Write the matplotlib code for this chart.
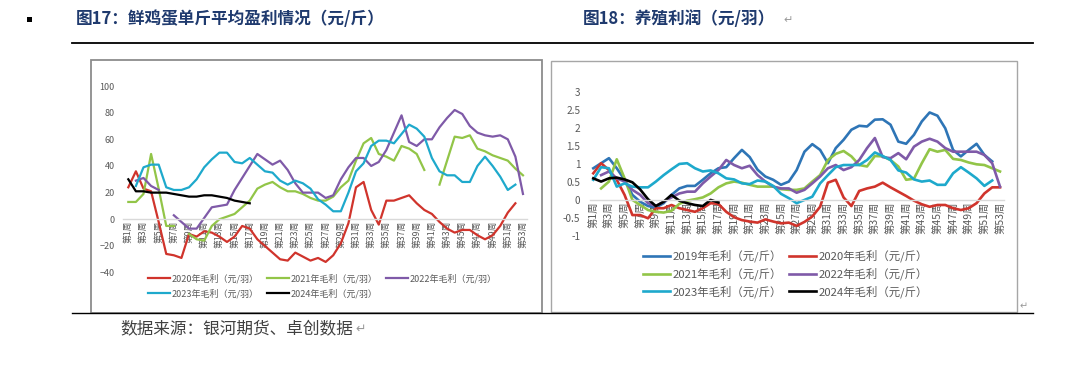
import matplotlib
matplotlib.use("Agg")
import matplotlib.pyplot as plt
import numpy as np
from matplotlib.patches import Rectangle
from matplotlib.lines import Line2D

plt.rcParams['font.family'] = ['Noto Sans CJK SC', 'DejaVu Sans']

nan = np.nan
weeks = np.arange(1, 54)
week_labels = ["第%d周" % w for w in weeks]

# 图17 data (元/羽)
egg_2020 = [24, 36, 23, 21, -2, -26, -27, -29, -11, -13, -9, -10, -13, -17, -13, -5, -7, -15, -20, -25,
            -30, -31, -25, -28, -31, -29, -32, -27, -18, -3, 24, 28, 7, -4, 14, 14, 16, 18, 12, 7,
            4, -2, -7, -10, -8, -8, -12, -15, -12, -5, 5, 12, nan]
egg_2021 = [13, 13, 19, 49, 23, -5, -5, nan, -11, -15, -16, -5, 0, 2, 4, 9, 14, 23, 26, 28,
            24, 21, 21, 19, 16, 14, 14, 17, 24, 29, 44, 57, 61, 49, 47, 44, 55, 53, 49, 37,
            nan, 26, 44, 62, 61, 63, 53, 51, 48, 46, 44, 38, 33]
egg_2022 = [nan, 29, 31, 25, 22, nan, 3, -2, -7, -7, 1, 9, 10, 11, 22, 31, 40, 49, 45, 41,
            44, 37, 27, 20, 20, 20, 16, 18, 30, 39, 46, 46, 40, 43, 52, 65, 78, 58, 55, 60,
            60, 69, 76, 82, 79, 70, 65, 63, 62, 63, 60, 47, 19]
egg_2023 = [nan, 25, 39, 41, 41, 24, 22, 22, 24, 30, 39, 45, 50, 50, 43, 42, 46, 41, 36, 35,
            29, 26, 29, 27, 23, 15, 11, 6, 6, 20, 36, 42, 55, 59, 59, 57, 64, 71, 68, 62,
            46, 36, 33, 33, 28, 28, 40, 47, 40, 32, 22, 26, nan]
egg_2024 = [30, 21, 21, 20, 20, 20, 19, 18, 17, 17, 18, 18, 17, 16, 14, 13, 12]

# 图18 data (元/斤)
farm_2019 = [0.89, 1.03, 1.17, 0.89, 0.57, 0.15, -0.04, -0.16, -0.2, -0.08, 0.15, 0.33, 0.4, 0.4, 0.57,
             0.75, 0.89, 0.92, 1.17, 1.4, 1.2, 0.85, 0.66, 0.57, 0.43, 0.52, 0.84, 1.35, 1.56, 1.4,
             1.03, 1.45, 1.68, 1.96, 2.07, 2.05, 2.24, 2.25, 2.1, 1.63, 1.57, 1.82, 2.19, 2.44, 2.35,
             2.0, 1.4, 1.22, 1.4, 1.57, 1.26, 1.08, nan]
farm_2020 = [0.75, 1.03, 0.84, 0.57, 0.15, -0.41, -0.41, -0.5, -0.22, -0.22, -0.13, -0.22, -0.27, -0.32, -0.22,
             -0.08, -0.1, -0.32, -0.47, -0.55, -0.59, -0.62, -0.53, -0.59, -0.64, -0.62, -0.71, -0.6, -0.45, -0.18,
             0.49, 0.57, 0.08, -0.16, 0.26, 0.33, 0.38, 0.49, 0.36, 0.24, 0.12, -0.01, -0.11, -0.18, -0.13,
             -0.13, -0.22, -0.27, -0.22, -0.08, 0.19, 0.36, 0.36]
farm_2021 = [nan, 0.33, 0.52, 1.14, 0.61, 0.01, -0.13, -0.27, -0.32, -0.34, -0.29, -0.1, -0.01, 0.03, 0.08,
             0.19, 0.36, 0.47, 0.52, 0.49, 0.43, 0.38, 0.38, 0.38, 0.31, 0.29, 0.29, 0.33, 0.52, 0.7,
             1.12, 1.29, 1.37, 1.22, 0.98, 0.94, 1.23, 1.22, 1.12, 0.94, 0.57, 0.6, 1.03, 1.42, 1.35,
             1.4, 1.15, 1.12, 1.05, 1.0, 0.98, 0.89, 0.8]
farm_2022 = [nan, 0.7, 0.8, 0.61, 0.52, 0.29, 0.15, -0.08, -0.16, -0.04, 0.08, 0.19, 0.24, 0.24, 0.47,
             0.66, 0.84, 1.12, 0.98, 0.89, 0.96, 0.7, 0.52, 0.38, 0.33, 0.33, 0.21, 0.29, 0.47, 0.66,
             0.89, 0.98, 0.84, 0.92, 1.12, 1.45, 1.73, 1.2, 1.17, 1.31, 1.14, 1.49, 1.63, 1.71, 1.63,
             1.45, 1.35, 1.35, 1.35, 1.35, 1.26, 1.03, 0.38]
farm_2023 = [0.57, 0.92, 0.89, 0.38, 0.47, 0.38, 0.36, 0.36, 0.52, 0.7, 0.86, 1.01, 1.03, 0.89, 0.8,
             0.83, 0.75, 0.61, 0.58, 0.47, 0.45, 0.55, 0.52, 0.4, 0.18, 0.06, -0.08, 0.01, 0.1, 0.47,
             0.7, 0.92, 0.98, 0.98, 0.98, 1.12, 1.33, 1.23, 1.12, 0.83, 0.77, 0.58, 0.52, 0.55, 0.43,
             0.43, 0.75, 0.92, 0.77, 0.61, 0.4, 0.55, nan]
farm_2024 = [0.61, 0.52, 0.61, 0.63, 0.58, 0.5, 0.3, 0.03, -0.16, -0.04, 0.15, -0.01, -0.08, -0.13, -0.16,
             0.01, -0.06]

c_blue = '#2E75B6'
c_red = '#D0342C'
c_green = '#92C548'
c_purple = '#7F5AA8'
c_cyan = '#1EA9CC'
c_black = '#000000'
c_tick = '#595959'

W, H = 1080, 367
fig = plt.figure(figsize=(W / 100, H / 100), dpi=100)


def fx(px):
    return px / W


def fy(py):
    return 1 - py / H


# header and frames
fig.add_artist(Rectangle((fx(27), fy(22)), fx(5), 5 / H, transform=fig.transFigure,
                         facecolor='black', edgecolor='none'))
fig.text(fx(76), fy(19), "图17：鲜鸡蛋单斤平均盈利情况（元/斤）", fontsize=12, fontweight='bold',
         color='#1F3A6E', ha='left', va='center')
fig.text(fx(583), fy(19), "图18：养殖利润（元/羽）", fontsize=12, fontweight='bold',
         color='#1F3A6E', ha='left', va='center')
fig.text(fx(783), fy(20), "↵", fontsize=8, color='#999999', ha='left', va='center')
fig.add_artist(Line2D([fx(72), fx(1033)], [fy(43), fy(43)], color='black', lw=1.3))
fig.add_artist(Line2D([fx(72), fx(1033)], [fy(313), fy(313)], color='black', lw=1.0))
fig.add_artist(Rectangle((fx(91), fy(313)), fx(542) - fx(91), fy(60) - fy(313), transform=fig.transFigure,
                         fill=False, edgecolor='#8C8C8C', lw=1.3))
fig.add_artist(Rectangle((fx(551), fy(312)), fx(1017) - fx(551), fy(61) - fy(312), transform=fig.transFigure,
                         fill=False, edgecolor='#A6A6A6', lw=1.0))
fig.text(fx(1020), fy(306), "↵", fontsize=7, color='#999999', ha='left', va='center')
fig.text(fx(120), fy(329), "数据来源：银河期货、卓创数据", fontsize=12, color='#404040', ha='left', va='center')
fig.text(fx(355), fy(329), "↵", fontsize=9, color='#999999', ha='left', va='center')


def style_axes(ax, xfs, yfs, ypad):
    for s in ['top', 'right', 'left']:
        ax.spines[s].set_visible(False)
    ax.spines['bottom'].set_position(('data', 0))
    ax.spines['bottom'].set_color('#D9D9D9')
    ax.spines['bottom'].set_linewidth(1.0)
    ax.set_xticks(weeks[::2])
    ax.set_xticklabels(week_labels[::2], rotation=90, fontsize=xfs, color=c_tick)
    ax.tick_params(axis='x', length=0, pad=1)
    ax.tick_params(axis='y', length=0, pad=ypad, labelsize=yfs, labelcolor=c_tick)
    ax.patch.set_alpha(0)


# left chart
ax1 = fig.add_axes([fx(123), fy(272.6), fx(527) - fx(123), fy(86) - fy(272.6)])
lw1 = 1.6
l20, = ax1.plot(weeks, egg_2020, color=c_red, lw=lw1, label="2020年毛利（元/羽）")
l21, = ax1.plot(weeks, egg_2021, color=c_green, lw=lw1, label="2021年毛利（元/羽）")
l22, = ax1.plot(weeks, egg_2022, color=c_purple, lw=lw1, label="2022年毛利（元/羽）")
l23, = ax1.plot(weeks, egg_2023, color=c_cyan, lw=lw1, label="2023年毛利（元/羽）")
l24, = ax1.plot(weeks[:len(egg_2024)], egg_2024, color=c_black, lw=lw1, label="2024年毛利（元/羽）")
ax1.set_xlim(0.3, 53.53)
ax1.set_ylim(-40, 100)
ax1.set_yticks(np.arange(-40, 101, 20))
style_axes(ax1, 6.3, 6.5, 6)
# legend fills column by column, so order handles to read row by row
order1 = [l20, l23, l21, l24, l22]
ax1.legend(handles=order1, loc='upper left', bbox_to_anchor=(fx(148), fy(274)), bbox_transform=fig.transFigure,
           ncol=3, frameon=False, fontsize=6.5, handlelength=2.4, handletextpad=0.25,
           columnspacing=0.9, labelspacing=0.55, borderaxespad=0, borderpad=0,
           labelcolor=c_tick)

# right chart
ax2 = fig.add_axes([fx(590), fy(236.3), fx(1004) - fx(590), fy(92.3) - fy(236.3)])
lw2 = 1.9
r19, = ax2.plot(weeks, farm_2019, color=c_blue, lw=lw2, label="2019年毛利（元/斤）")
r20, = ax2.plot(weeks, farm_2020, color=c_red, lw=lw2, label="2020年毛利（元/斤）")
r21, = ax2.plot(weeks, farm_2021, color=c_green, lw=lw2, label="2021年毛利（元/斤）")
r22, = ax2.plot(weeks, farm_2022, color=c_purple, lw=lw2, label="2022年毛利（元/斤）")
r23, = ax2.plot(weeks, farm_2023, color=c_cyan, lw=lw2, label="2023年毛利（元/斤）")
r24, = ax2.plot(weeks[:len(farm_2024)], farm_2024, color=c_black, lw=lw2, label="2024年毛利（元/斤）")
ax2.set_xlim(0.58, 53.51)
ax2.set_ylim(-1, 3)
ax2.set_yticks(np.arange(-1, 3.01, 0.5))
ax2.set_yticklabels(['-1', '-0.5', '0', '0.5', '1', '1.5', '2', '2.5', '3'])
style_axes(ax2, 7.5, 7.2, 7)
order2 = [r19, r21, r23, r20, r22, r24]
ax2.legend(handles=order2, loc='upper left', bbox_to_anchor=(fx(643), fy(250)), bbox_transform=fig.transFigure,
           ncol=2, frameon=False, fontsize=8.2, handlelength=2.4, handletextpad=0.2,
           columnspacing=0.6, labelspacing=0.45, borderaxespad=0, borderpad=0,
           labelcolor=c_tick)

fig.savefig("out.png", dpi=100)
